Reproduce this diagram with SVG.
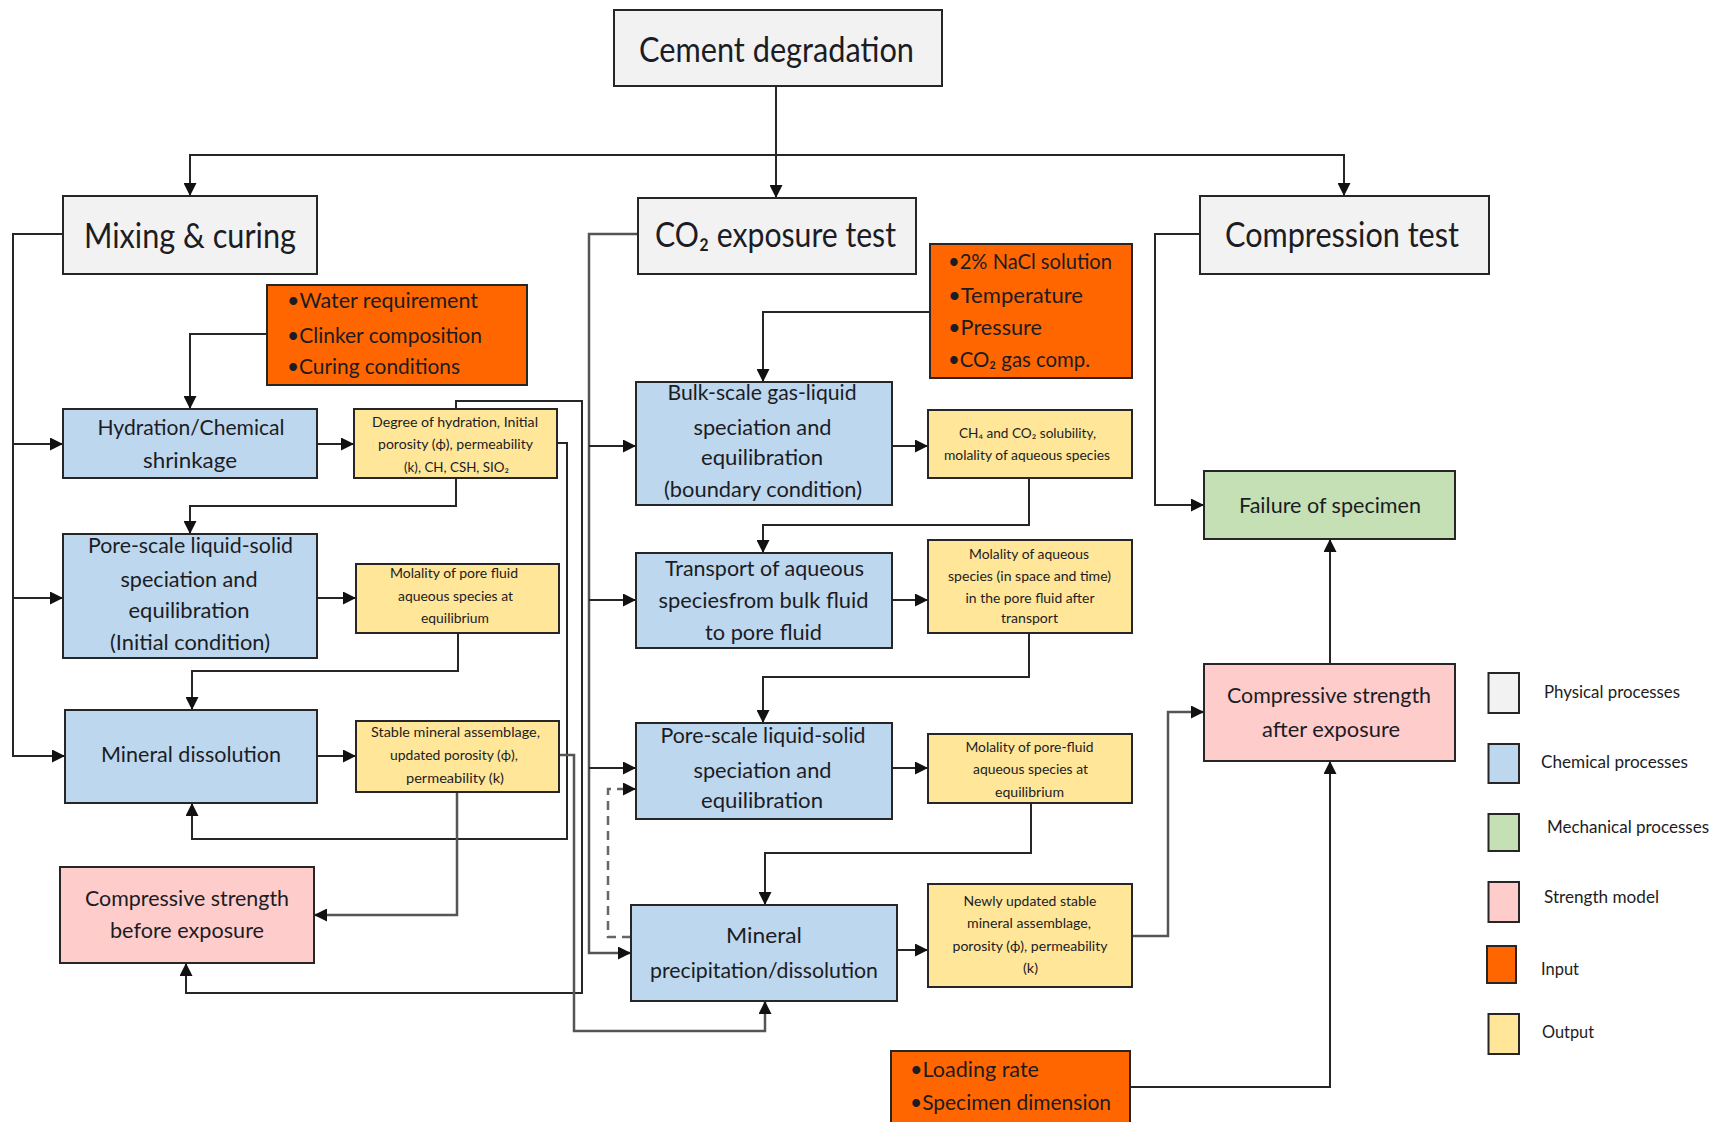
<svg xmlns="http://www.w3.org/2000/svg" width="1717" height="1122" viewBox="0 0 1717 1122">
  <style>
    .box { stroke: #262626; stroke-width: 2; }
    .phys { fill: #f2f2f2; }
    .chem { fill: #bdd7ee; }
    .mech { fill: #c5e0b4; }
    .str { fill: #ffcccc; }
    .inp { fill: #ff6600; }
    .out { fill: #ffe699; }
    text { font-family: Lato, "Liberation Sans", sans-serif; fill: #1c1c24; }
    .h { font-size: 34px; text-anchor: middle; }
    .m { font-size: 22px; text-anchor: middle; }
    .s { font-size: 13px; text-anchor: middle; }
    .i { font-size: 21px; }
    .l { font-size: 17px; }
    .c { fill: none; stroke: #262626; stroke-width: 2; }
    .g { fill: none; stroke: #555555; stroke-width: 2.5; }
    .d { fill: none; stroke: #666666; stroke-width: 2.5; stroke-dasharray: 9 6; }
  </style>
  <defs>
    <marker id="ah" viewBox="0 0 10 10" refX="10" refY="5" markerWidth="13" markerHeight="13" markerUnits="userSpaceOnUse" orient="auto">
      <path d="M0,0 L10,5 L0,10 z" fill="#111"/>
    </marker>
  </defs>

  <rect width="1717" height="1122" fill="#ffffff"/>

  <!-- connectors -->
  <g id="connectors">
    <path class="c" d="M776,86 V198" marker-end="url(#ah)"/>
    <path class="c" d="M190,196 V155 H1344 V196" />
    <path class="c" d="M190,170 V196" marker-end="url(#ah)"/>
    <path class="c" d="M1344,170 V196" marker-end="url(#ah)"/>

    <!-- mixing & curing branch -->
    <path class="c" d="M63,234 H13 V756 H65" marker-end="url(#ah)"/>
    <path class="c" d="M13,444 H63" marker-end="url(#ah)"/>
    <path class="c" d="M13,598 H63" marker-end="url(#ah)"/>
    <path class="c" d="M267,334 H190 V409" marker-end="url(#ah)"/>
    <path class="c" d="M317,444 H354" marker-end="url(#ah)"/>
    <path class="c" d="M456,478 V506 H190 V534" marker-end="url(#ah)"/>
    <path class="c" d="M317,598 H356" marker-end="url(#ah)"/>
    <path class="c" d="M458,633 V671 H192 V710" marker-end="url(#ah)"/>
    <path class="c" d="M317,756 H356" marker-end="url(#ah)"/>
    <path class="c" d="M557,443 H567 V839 H192 V803" marker-end="url(#ah)"/>
    <path class="c" d="M456,409 V401 H582 V993 H186 V963" marker-end="url(#ah)"/>
    <path class="g" d="M457,792 V915 H314" marker-end="url(#ah)"/>
    <path class="g" d="M559,755 H574 V1031 H765 V1001" marker-end="url(#ah)"/>

    <!-- CO2 exposure branch -->
    <path class="g" d="M638,234 H589 V953 H631" marker-end="url(#ah)"/>
    <path class="c" d="M589,446 H636" marker-end="url(#ah)"/>
    <path class="c" d="M589,600 H636" marker-end="url(#ah)"/>
    <path class="c" d="M589,768 H636" marker-end="url(#ah)"/>
    <path class="c" d="M930,312 H763 V382" marker-end="url(#ah)"/>
    <path class="c" d="M892,446 H928" marker-end="url(#ah)"/>
    <path class="c" d="M1029,478 V525 H763 V553" marker-end="url(#ah)"/>
    <path class="c" d="M892,600 H928" marker-end="url(#ah)"/>
    <path class="c" d="M1029,633 V677 H763 V723" marker-end="url(#ah)"/>
    <path class="c" d="M892,768 H928" marker-end="url(#ah)"/>
    <path class="c" d="M1031,803 V853 H765 V905" marker-end="url(#ah)"/>
    <path class="d" d="M631,937 H608 V789 H624"/>
    <path class="c" d="M624,789 H636" marker-end="url(#ah)"/>
    <path class="c" d="M897,950 H928" marker-end="url(#ah)"/>
    <path class="g" d="M1132,936 H1168 V712 H1204" marker-end="url(#ah)"/>

    <!-- compression branch -->
    <path class="c" d="M1130,1087 H1330 V761" marker-end="url(#ah)"/>
    <path class="c" d="M1330,664 V539" marker-end="url(#ah)"/>
    <path class="c" d="M1200,234 H1155 V505 H1204" marker-end="url(#ah)"/>
  </g>

  <!-- top -->
  <g id="cement-degradation">
    <rect class="box phys" x="614" y="10" width="328" height="76"/>
    <text class="h" x="776.5" y="62" textLength="275" lengthAdjust="spacingAndGlyphs">Cement degradation</text>
  </g>

  <!-- column 1 -->
  <g id="mixing-curing">
    <rect class="box phys" x="63" y="196" width="254" height="78"/>
    <text class="h" x="190" y="248" textLength="212" lengthAdjust="spacingAndGlyphs">Mixing &amp; curing</text>
  </g>
  <g id="input-mixing">
    <rect class="box inp" x="267" y="285" width="260" height="100"/>
    <text class="i" x="287" y="308" textLength="191" lengthAdjust="spacingAndGlyphs">•Water requirement</text>
    <text class="i" x="287" y="343" textLength="195" lengthAdjust="spacingAndGlyphs">•Clinker composition</text>
    <text class="i" x="287" y="374" textLength="173" lengthAdjust="spacingAndGlyphs">•Curing conditions</text>
  </g>
  <g id="hydration">
    <rect class="box chem" x="63" y="409" width="254" height="69"/>
    <text class="m" x="191" y="435" textLength="187" lengthAdjust="spacingAndGlyphs">Hydration/Chemical</text>
    <text class="m" x="190" y="468" textLength="94" lengthAdjust="spacingAndGlyphs">shrinkage</text>
  </g>
  <g id="output-hydration">
    <rect class="box out" x="354" y="409" width="203" height="69"/>
    <text class="s" x="455" y="427" textLength="166" lengthAdjust="spacingAndGlyphs">Degree of hydration, Initial</text>
    <text class="s" x="455.5" y="449" textLength="155" lengthAdjust="spacingAndGlyphs">porosity (ϕ), permeability</text>
    <text class="s" x="456.5" y="472" textLength="105" lengthAdjust="spacingAndGlyphs">(k), CH, CSH, SIO₂</text>
  </g>
  <g id="pore-scale-initial">
    <rect class="box chem" x="63" y="534" width="254" height="124"/>
    <text class="m" x="190.5" y="553" textLength="205" lengthAdjust="spacingAndGlyphs">Pore-scale liquid-solid</text>
    <text class="m" x="189" y="587" textLength="137" lengthAdjust="spacingAndGlyphs">speciation and</text>
    <text class="m" x="189" y="618" textLength="121" lengthAdjust="spacingAndGlyphs">equilibration</text>
    <text class="m" x="190" y="650" textLength="160" lengthAdjust="spacingAndGlyphs">(Initial condition)</text>
  </g>
  <g id="output-pore-initial">
    <rect class="box out" x="356" y="564" width="203" height="69"/>
    <text class="s" x="454" y="578" textLength="128" lengthAdjust="spacingAndGlyphs">Molality of pore fluid</text>
    <text class="s" x="455.5" y="601" textLength="115" lengthAdjust="spacingAndGlyphs">aqueous species at</text>
    <text class="s" x="455" y="623" textLength="68" lengthAdjust="spacingAndGlyphs">equilibrium</text>
  </g>
  <g id="mineral-dissolution">
    <rect class="box chem" x="65" y="710" width="252" height="93"/>
    <text class="m" x="191" y="762" textLength="180" lengthAdjust="spacingAndGlyphs">Mineral dissolution</text>
  </g>
  <g id="output-mineral-dissolution">
    <rect class="box out" x="356" y="721" width="203" height="71"/>
    <text class="s" x="455.5" y="737" textLength="169" lengthAdjust="spacingAndGlyphs">Stable mineral assemblage,</text>
    <text class="s" x="454" y="760" textLength="128" lengthAdjust="spacingAndGlyphs">updated porosity (ϕ),</text>
    <text class="s" x="455" y="783" textLength="98" lengthAdjust="spacingAndGlyphs">permeability (k)</text>
  </g>
  <g id="strength-before">
    <rect class="box str" x="60" y="867" width="254" height="96"/>
    <text class="m" x="187" y="906" textLength="204" lengthAdjust="spacingAndGlyphs">Compressive strength</text>
    <text class="m" x="187" y="938" textLength="154" lengthAdjust="spacingAndGlyphs">before exposure</text>
  </g>

  <!-- column 2 -->
  <g id="co2-exposure">
    <rect class="box phys" x="638" y="198" width="278" height="76"/>
    <text class="h" x="775.5" y="247" textLength="241" lengthAdjust="spacingAndGlyphs">CO₂ exposure test</text>
  </g>
  <g id="input-exposure">
    <rect class="box inp" x="930" y="244" width="202" height="134"/>
    <text class="i" x="948" y="269" textLength="164" lengthAdjust="spacingAndGlyphs">•2% NaCl solution</text>
    <text class="i" x="948" y="303" textLength="135" lengthAdjust="spacingAndGlyphs">•Temperature</text>
    <text class="i" x="948" y="335" textLength="94" lengthAdjust="spacingAndGlyphs">•Pressure</text>
    <text class="i" x="948" y="367" textLength="142" lengthAdjust="spacingAndGlyphs">•CO₂ gas comp.</text>
  </g>
  <g id="bulk-scale">
    <rect class="box chem" x="636" y="382" width="256" height="123"/>
    <text class="m" x="762" y="400" textLength="189" lengthAdjust="spacingAndGlyphs">Bulk-scale gas-liquid</text>
    <text class="m" x="762.5" y="435" textLength="138" lengthAdjust="spacingAndGlyphs">speciation and</text>
    <text class="m" x="762" y="465" textLength="122" lengthAdjust="spacingAndGlyphs">equilibration</text>
    <text class="m" x="763" y="497" textLength="198" lengthAdjust="spacingAndGlyphs">(boundary condition)</text>
  </g>
  <g id="output-bulk">
    <rect class="box out" x="928" y="410" width="204" height="68"/>
    <text class="s" x="1027.5" y="438" textLength="137" lengthAdjust="spacingAndGlyphs">CH₄ and CO₂ solubility,</text>
    <text class="s" x="1027" y="460" textLength="166" lengthAdjust="spacingAndGlyphs">molality of aqueous species</text>
  </g>
  <g id="transport">
    <rect class="box chem" x="636" y="553" width="256" height="95"/>
    <text class="m" x="764.5" y="576" textLength="199" lengthAdjust="spacingAndGlyphs">Transport of aqueous</text>
    <text class="m" x="763.5" y="608" textLength="210" lengthAdjust="spacingAndGlyphs">speciesfrom bulk fluid</text>
    <text class="m" x="763.5" y="640" textLength="117" lengthAdjust="spacingAndGlyphs">to pore fluid</text>
  </g>
  <g id="output-transport">
    <rect class="box out" x="928" y="540" width="204" height="93"/>
    <text class="s" x="1029" y="559" textLength="120" lengthAdjust="spacingAndGlyphs">Molality of aqueous</text>
    <text class="s" x="1029.5" y="581" textLength="163" lengthAdjust="spacingAndGlyphs">species (in space and time)</text>
    <text class="s" x="1030" y="603" textLength="129" lengthAdjust="spacingAndGlyphs">in the pore fluid after</text>
    <text class="s" x="1029.5" y="623" textLength="57" lengthAdjust="spacingAndGlyphs">transport</text>
  </g>
  <g id="pore-scale-exposure">
    <rect class="box chem" x="636" y="723" width="256" height="96"/>
    <text class="m" x="763" y="743" textLength="205" lengthAdjust="spacingAndGlyphs">Pore-scale liquid-solid</text>
    <text class="m" x="762.5" y="778" textLength="138" lengthAdjust="spacingAndGlyphs">speciation and</text>
    <text class="m" x="762" y="808" textLength="122" lengthAdjust="spacingAndGlyphs">equilibration</text>
  </g>
  <g id="output-pore-exposure">
    <rect class="box out" x="928" y="734" width="204" height="69"/>
    <text class="s" x="1029.5" y="752" textLength="128" lengthAdjust="spacingAndGlyphs">Molality of pore-fluid</text>
    <text class="s" x="1030.5" y="774" textLength="115" lengthAdjust="spacingAndGlyphs">aqueous species at</text>
    <text class="s" x="1029.5" y="797" textLength="69" lengthAdjust="spacingAndGlyphs">equilibrium</text>
  </g>
  <g id="mineral-precipitation">
    <rect class="box chem" x="631" y="905" width="266" height="96"/>
    <text class="m" x="764" y="943" textLength="76" lengthAdjust="spacingAndGlyphs">Mineral</text>
    <text class="m" x="764" y="978" textLength="228" lengthAdjust="spacingAndGlyphs">precipitation/dissolution</text>
  </g>
  <g id="output-precipitation">
    <rect class="box out" x="928" y="884" width="204" height="103"/>
    <text class="s" x="1030" y="906" textLength="133" lengthAdjust="spacingAndGlyphs">Newly updated stable</text>
    <text class="s" x="1029" y="928" textLength="124" lengthAdjust="spacingAndGlyphs">mineral assemblage,</text>
    <text class="s" x="1030" y="951" textLength="155" lengthAdjust="spacingAndGlyphs">porosity (ϕ), permeability</text>
    <text class="s" x="1030.5" y="973" textLength="15" lengthAdjust="spacingAndGlyphs">(k)</text>
  </g>
  <g id="input-compression">
    <rect class="box inp" x="891" y="1051" width="239" height="72"/>
    <text class="i" x="910" y="1077" textLength="129" lengthAdjust="spacingAndGlyphs">•Loading rate</text>
    <text class="i" x="910" y="1110" textLength="201" lengthAdjust="spacingAndGlyphs">•Specimen dimension</text>
  </g>

  <!-- column 3 -->
  <g id="compression-test">
    <rect class="box phys" x="1200" y="196" width="289" height="78"/>
    <text class="h" x="1342" y="247" textLength="234" lengthAdjust="spacingAndGlyphs">Compression test</text>
  </g>
  <g id="failure">
    <rect class="box mech" x="1204" y="471" width="251" height="68"/>
    <text class="m" x="1330" y="513" textLength="182" lengthAdjust="spacingAndGlyphs">Failure of specimen</text>
  </g>
  <g id="strength-after">
    <rect class="box str" x="1204" y="664" width="251" height="97"/>
    <text class="m" x="1329" y="703" textLength="204" lengthAdjust="spacingAndGlyphs">Compressive strength</text>
    <text class="m" x="1331" y="737" textLength="138" lengthAdjust="spacingAndGlyphs">after exposure</text>
  </g>

  <!-- legend -->
  <g id="legend">
    <rect class="box phys" x="1488.5" y="673" width="30.5" height="40"/>
    <text class="l" x="1544" y="698" textLength="136" lengthAdjust="spacingAndGlyphs">Physical processes</text>
    <rect class="box chem" x="1488.5" y="744" width="30.5" height="39"/>
    <text class="l" x="1541" y="768" textLength="147" lengthAdjust="spacingAndGlyphs">Chemical processes</text>
    <rect class="box mech" x="1488.5" y="814" width="30.5" height="37"/>
    <text class="l" x="1547" y="833" textLength="162" lengthAdjust="spacingAndGlyphs">Mechanical processes</text>
    <rect class="box str" x="1488.5" y="882" width="30.5" height="40"/>
    <text class="l" x="1544" y="903" textLength="115" lengthAdjust="spacingAndGlyphs">Strength model</text>
    <rect class="box inp" x="1487" y="946" width="29" height="37"/>
    <text class="l" x="1541" y="975" textLength="38" lengthAdjust="spacingAndGlyphs">Input</text>
    <rect class="box out" x="1488.5" y="1014" width="30.5" height="40"/>
    <text class="l" x="1542" y="1038" textLength="52" lengthAdjust="spacingAndGlyphs">Output</text>
  </g>
</svg>
